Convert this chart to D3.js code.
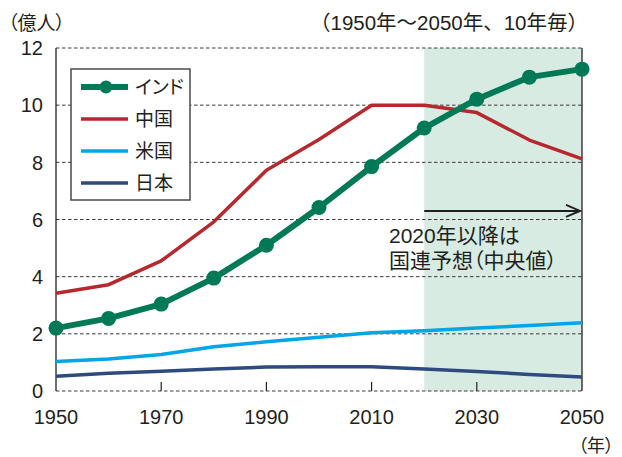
<!DOCTYPE html>
<html>
<head>
<meta charset="utf-8">
<script src="https://cdn.jsdelivr.net/npm/d3@7"></script>
<style>
  body { margin: 0; background: #fff; }
  svg text { font-family: "Liberation Sans", "Noto Sans CJK JP", sans-serif; fill: #231f20; font-feature-settings: "palt"; }
  svg text.wide { font-feature-settings: normal; }
</style>
</head>
<body>
<div class="chart"></div>
<script>
var years = [1950, 1960, 1970, 1980, 1990, 2000, 2010, 2020, 2030, 2040, 2050];
var india = [2.2, 2.54, 3.04, 3.95, 5.1, 6.42, 7.85, 9.2, 10.21, 10.98, 11.26];
var china = [3.42, 3.72, 4.55, 5.92, 7.72, 8.8, 10.0, 10.0, 9.74, 8.78, 8.12];
var usa = [1.03, 1.12, 1.28, 1.55, 1.72, 1.88, 2.04, 2.11, 2.2, 2.29, 2.39];
var japan = [0.52, 0.62, 0.69, 0.77, 0.84, 0.85, 0.85, 0.77, 0.68, 0.58, 0.49];
var seriesNames = ["インド", "中国", "米国", "日本"];
var xTicks = [1950, 1970, 1990, 2010, 2030, 2050];
var yTicks = [0, 2, 4, 6, 8, 10, 12];
var forecastStart = 2020;
var arrowLevel = 6.3;

var margin = {top: 48, right: 40, bottom: 66, left: 56},
    width = 622 - margin.left - margin.right,
    height = 457 - margin.top - margin.bottom;

var svg = d3.select(".chart").append("svg")
    .attr("width", 622)
    .attr("height", 457);

var g = svg.append("g")
    .attr("transform", "translate(" + margin.left + "," + margin.top + ")");

var x = d3.scaleLinear().domain([1950, 2050]).range([0, width]);
var y = d3.scaleLinear().domain([0, 12]).range([height, 0]);

// forecast shading
g.append("rect")
    .attr("x", x(forecastStart))
    .attr("y", y(12))
    .attr("width", x(2050) - x(forecastStart))
    .attr("height", y(0) - y(12))
    .attr("fill", "#d7ebe3");

// dashed grid, including top and bottom edges
g.selectAll(".grid")
    .data(yTicks)
    .enter().append("line")
    .attr("class", "grid")
    .attr("x1", 0)
    .attr("x2", width)
    .attr("y1", function(d){ return y(d); })
    .attr("y2", function(d){ return y(d); })
    .attr("stroke", "#3a3a3a")
    .attr("stroke-width", 1)
    .attr("stroke-dasharray", "3.5,2.5");

// side borders
g.append("line").attr("x1", 0).attr("x2", 0).attr("y1", y(12)).attr("y2", y(0))
    .attr("stroke", "#231f20").attr("stroke-width", 1.3);
g.append("line").attr("x1", width).attr("x2", width).attr("y1", y(12)).attr("y2", y(0))
    .attr("stroke", "#231f20").attr("stroke-width", 1.3);

// x ticks pointing up
g.selectAll(".xtick")
    .data(xTicks.slice(1, -1))
    .enter().append("line")
    .attr("x1", function(d){ return x(d); })
    .attr("x2", function(d){ return x(d); })
    .attr("y1", y(0))
    .attr("y2", y(0) - 9)
    .attr("stroke", "#231f20")
    .attr("stroke-width", 1.2);

g.selectAll(".xlabel")
    .data(xTicks)
    .enter().append("text")
    .attr("x", function(d){ return x(d); })
    .attr("y", height + 33)
    .attr("text-anchor", "middle")
    .style("font-size", "20px")
    .text(function(d){ return d; });

g.selectAll(".ylabel")
    .data(yTicks)
    .enter().append("text")
    .attr("x", -13)
    .attr("y", function(d){ return y(d); })
    .attr("dy", "0.36em")
    .attr("text-anchor", "end")
    .style("font-size", "20px")
    .text(function(d){ return d; });

svg.append("text")
    .attr("x", 8)
    .attr("y", 30)
    .style("font-size", "19px")
    .text("（億人）");

svg.append("text")
    .attr("class", "wide")
    .attr("x", 588)
    .attr("y", 30)
    .attr("text-anchor", "end")
    .style("font-size", "20.5px")
    .text("（1950年～2050年、10年毎）");

svg.append("text")
    .attr("x", 614)
    .attr("y", 452)
    .attr("text-anchor", "end")
    .style("font-size", "18px")
    .text("（年）");

// series lines
var line = d3.line()
    .x(function(d, i){ return x(years[i]); })
    .y(function(d){ return y(d); });

var series = [
    {name: seriesNames[3], values: japan, color: "#2f4a7e", w: 3.5},
    {name: seriesNames[2], values: usa, color: "#00a6e6", w: 3.5},
    {name: seriesNames[1], values: china, color: "#b7282e", w: 3.5},
    {name: seriesNames[0], values: india, color: "#007a56", w: 6}
];

series.forEach(function(s){
    g.append("path")
        .datum(s.values)
        .attr("d", line)
        .attr("fill", "none")
        .attr("stroke", s.color)
        .attr("stroke-width", s.w)
        .attr("stroke-linejoin", "round");
});

g.selectAll(".point")
    .data(india)
    .enter().append("circle")
    .attr("class", "point")
    .attr("cx", function(d, i){ return x(years[i]); })
    .attr("cy", function(d){ return y(d); })
    .attr("r", 7.5)
    .attr("fill", "#007a56");

// forecast arrow and note
var ay = y(arrowLevel);
g.append("line")
    .attr("x1", x(forecastStart))
    .attr("x2", x(2050) - 2)
    .attr("y1", ay)
    .attr("y2", ay)
    .attr("stroke", "#231f20")
    .attr("stroke-width", 2);
g.append("path")
    .attr("d", "M" + (x(2050) - 16) + "," + (ay - 6) + "L" + (x(2050) - 2) + "," + ay + "L" + (x(2050) - 16) + "," + (ay + 6))
    .attr("fill", "none")
    .attr("stroke", "#231f20")
    .attr("stroke-width", 2);

g.append("text")
    .attr("x", x(2013.3))
    .attr("y", y(arrowLevel) + 32)
    .style("font-size", "21px")
    .text("2020年以降は");
g.append("text")
    .attr("x", x(2013.3))
    .attr("y", y(arrowLevel) + 57)
    .style("font-size", "21px")
    .text("国連予想（中央値）");

// legend
var legend = svg.append("g").attr("transform", "translate(71,69)");
legend.append("rect")
    .attr("width", 119)
    .attr("height", 131)
    .attr("fill", "#fff")
    .attr("stroke", "#4a4a4a")
    .attr("stroke-width", 1.5);

var legendRows = series.slice().reverse();
legendRows.forEach(function(s, i){
    var ly = 18 + i * 32;
    legend.append("line")
        .attr("x1", 10).attr("x2", 57)
        .attr("y1", ly).attr("y2", ly)
        .attr("stroke", s.color)
        .attr("stroke-width", s.w);
    if (i === 0) {
        legend.append("circle")
            .attr("cx", 35).attr("cy", ly).attr("r", 6.5)
            .attr("fill", s.color);
    }
    legend.append("text")
        .attr("x", 64)
        .attr("y", ly)
        .attr("dy", "0.36em")
        .style("font-size", "19px")
        .text(s.name);
});
</script>
</body>
</html>
